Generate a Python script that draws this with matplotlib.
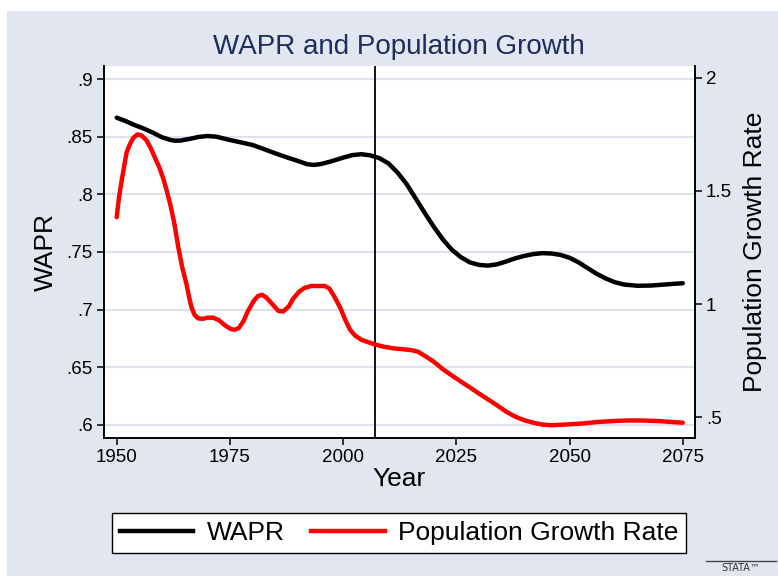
import matplotlib.pyplot as plt
from matplotlib.patches import Rectangle
from matplotlib.lines import Line2D

plt.rcParams['font.family'] = ['Liberation Sans', 'DejaVu Sans']

# WAPR (left axis)
wapr_years = [1950, 1952, 1954, 1956, 1958, 1960, 1962, 1963, 1964, 1966, 1968,
              1970, 1972, 1975, 1978, 1980, 1982, 1985, 1988, 1990, 1992, 1993.5,
              1995, 1997, 2000, 2002, 2004, 2006, 2008, 2010, 2012, 2014, 2016,
              2018, 2020, 2022, 2024, 2026, 2028, 2030, 2032, 2034, 2036, 2038,
              2040, 2042, 2044, 2046, 2048, 2050, 2052, 2054, 2056, 2058, 2060,
              2062, 2065, 2068, 2070, 2073, 2075]
wapr = [0.8665, 0.8635, 0.8600, 0.8570, 0.8535, 0.8495, 0.8470, 0.8465, 0.8466,
        0.8480, 0.8497, 0.8506, 0.8500, 0.8471, 0.8446, 0.8428, 0.8400, 0.8356,
        0.8315, 0.8290, 0.8262, 0.8255, 0.8262, 0.8282, 0.8318, 0.8340, 0.8348,
        0.8338, 0.8314, 0.8269, 0.8190, 0.8090, 0.7966, 0.7840, 0.7720, 0.7610,
        0.7520, 0.7455, 0.7410, 0.7388, 0.7382, 0.7393, 0.7418, 0.7445, 0.7466,
        0.7482, 0.7490, 0.7487, 0.7475, 0.7450, 0.7410, 0.7360, 0.7311, 0.7270,
        0.7238, 0.7218, 0.7207, 0.7209, 0.7215, 0.7224, 0.7229]

# Population growth rate (right axis)
pop_years = [1950, 1950.5, 1951.1, 1952.2, 1953, 1953.7, 1954.6, 1955.5, 1956.6,
             1957.5, 1958.4, 1959.4, 1960.3, 1961, 1961.8, 1962.7, 1963.6, 1964.5,
             1965.4, 1966, 1966.5, 1967.2, 1968, 1969, 1970, 1971.3, 1972.5, 1974,
             1975.3, 1976.1, 1977, 1978, 1979, 1980.3, 1981.2, 1982.1, 1983, 1984.5,
             1985.7, 1986.8, 1988, 1989, 1990.3, 1991.5, 1993, 1996, 1997, 1998,
             1999.3, 2000.5, 2001.5, 2002.6, 2004, 2005.5, 2007, 2009, 2011, 2013,
             2015, 2016.5, 2018, 2020, 2022, 2024, 2026, 2028, 2030, 2032, 2034,
             2036, 2038, 2040, 2042, 2044, 2046, 2048, 2050, 2053, 2056, 2060, 2063,
             2066, 2070, 2075]
pop_growth = [1.384, 1.470, 1.546, 1.671, 1.710, 1.735, 1.750, 1.745, 1.723,
              1.690, 1.649, 1.605, 1.554, 1.505, 1.443, 1.360, 1.252, 1.160,
              1.090, 1.030, 0.987, 0.952, 0.937, 0.935, 0.940, 0.940, 0.930, 0.905,
              0.889, 0.887, 0.895, 0.925, 0.970, 1.015, 1.036, 1.041, 1.030, 0.997,
              0.970, 0.968, 0.990, 1.025, 1.055, 1.072, 1.080, 1.080, 1.068, 1.035,
              0.987, 0.930, 0.888, 0.862, 0.843, 0.832, 0.822, 0.812, 0.805, 0.801,
              0.797, 0.790, 0.772, 0.746, 0.713, 0.685, 0.658, 0.632, 0.605, 0.579,
              0.553, 0.525, 0.503, 0.487, 0.476, 0.468, 0.465, 0.467, 0.469, 0.473,
              0.479, 0.484, 0.486, 0.486, 0.483, 0.476]

left_ticks = [0.6, 0.65, 0.7, 0.75, 0.8, 0.85, 0.9]
left_labels = ['.6', '.65', '.7', '.75', '.8', '.85', '.9']
right_ticks = [0.5, 1, 1.5, 2]
right_labels = ['.5', '1', '1.5', '2']
year_ticks = [1950, 1975, 2000, 2025, 2050, 2075]
marker_year = 2007

bg = '#E1E6F0'
fig = plt.figure(figsize=(7.78, 5.76), dpi=100)
fig.patch.set_facecolor('white')
fig.patches.append(Rectangle((7 / 778, 0), 1, (576 - 11) / 576, transform=fig.transFigure,
                             facecolor=bg, edgecolor='none', zorder=-10))

ax = fig.add_axes([104 / 778, 138 / 576, 591 / 778, 372 / 576])
ax2 = ax.twinx()

ax.plot(wapr_years, wapr, color='black', lw=3.2, solid_capstyle='round',
        solid_joinstyle='round', zorder=3)
ax2.plot(pop_years, pop_growth, color='red', lw=3.2, solid_capstyle='round',
         solid_joinstyle='round', zorder=3)
ax.axvline(marker_year, color='black', lw=1.3, zorder=2)

ax.set_xlim(1947.2, 2077.7)
ax.set_ylim(0.5887, 0.9113)
ax2.set_ylim(0.4086, 2.052)

ax.set_xticks(year_ticks)
ax.set_yticks(left_ticks)
ax.set_yticklabels(left_labels)
ax2.set_yticks(right_ticks)
ax2.set_yticklabels(right_labels)

ax.yaxis.grid(True, color='#DCE2EE', lw=1.5)
ax.set_axisbelow(True)

for a in (ax, ax2):
    a.spines['top'].set_visible(False)
    for s in a.spines.values():
        s.set_linewidth(1.2)
    a.tick_params(length=5, width=1.1, labelsize=13.5, pad=3)

ax.set_xlabel('Year', fontsize=19, labelpad=1)
ax.set_ylabel('WAPR', fontsize=19, labelpad=6)
ax2.set_ylabel('Population Growth Rate', fontsize=19, labelpad=8)

fig.text(399 / 778, 1 - 47 / 576, 'WAPR and Population Growth', ha='center', va='center',
         fontsize=20, color='#1c2d5e')

handles = [Line2D([], [], color='black', lw=3.2), Line2D([], [], color='red', lw=3.2)]
leg = fig.legend(handles, ['WAPR', 'Population Growth Rate'], loc='center',
                 bbox_to_anchor=(399 / 778, 43 / 576), ncol=2, fontsize=19,
                 frameon=True, fancybox=False, edgecolor='black', framealpha=1,
                 handlelength=2.8, columnspacing=1.0, handletextpad=0.5,
                 borderpad=0.3)
leg.get_frame().set_linewidth(1.0)

# stata logo
fig.add_artist(Line2D([706 / 778, 776 / 778], [1 - 561 / 576] * 2, transform=fig.transFigure,
                      color='#444444', lw=1))
fig.text(741 / 778, 1 - 568 / 576, 'STATA™', ha='center', va='center', fontsize=7,
         color='#333333', family='DejaVu Sans')

fig.savefig('out.png', dpi=100, facecolor=fig.get_facecolor())
